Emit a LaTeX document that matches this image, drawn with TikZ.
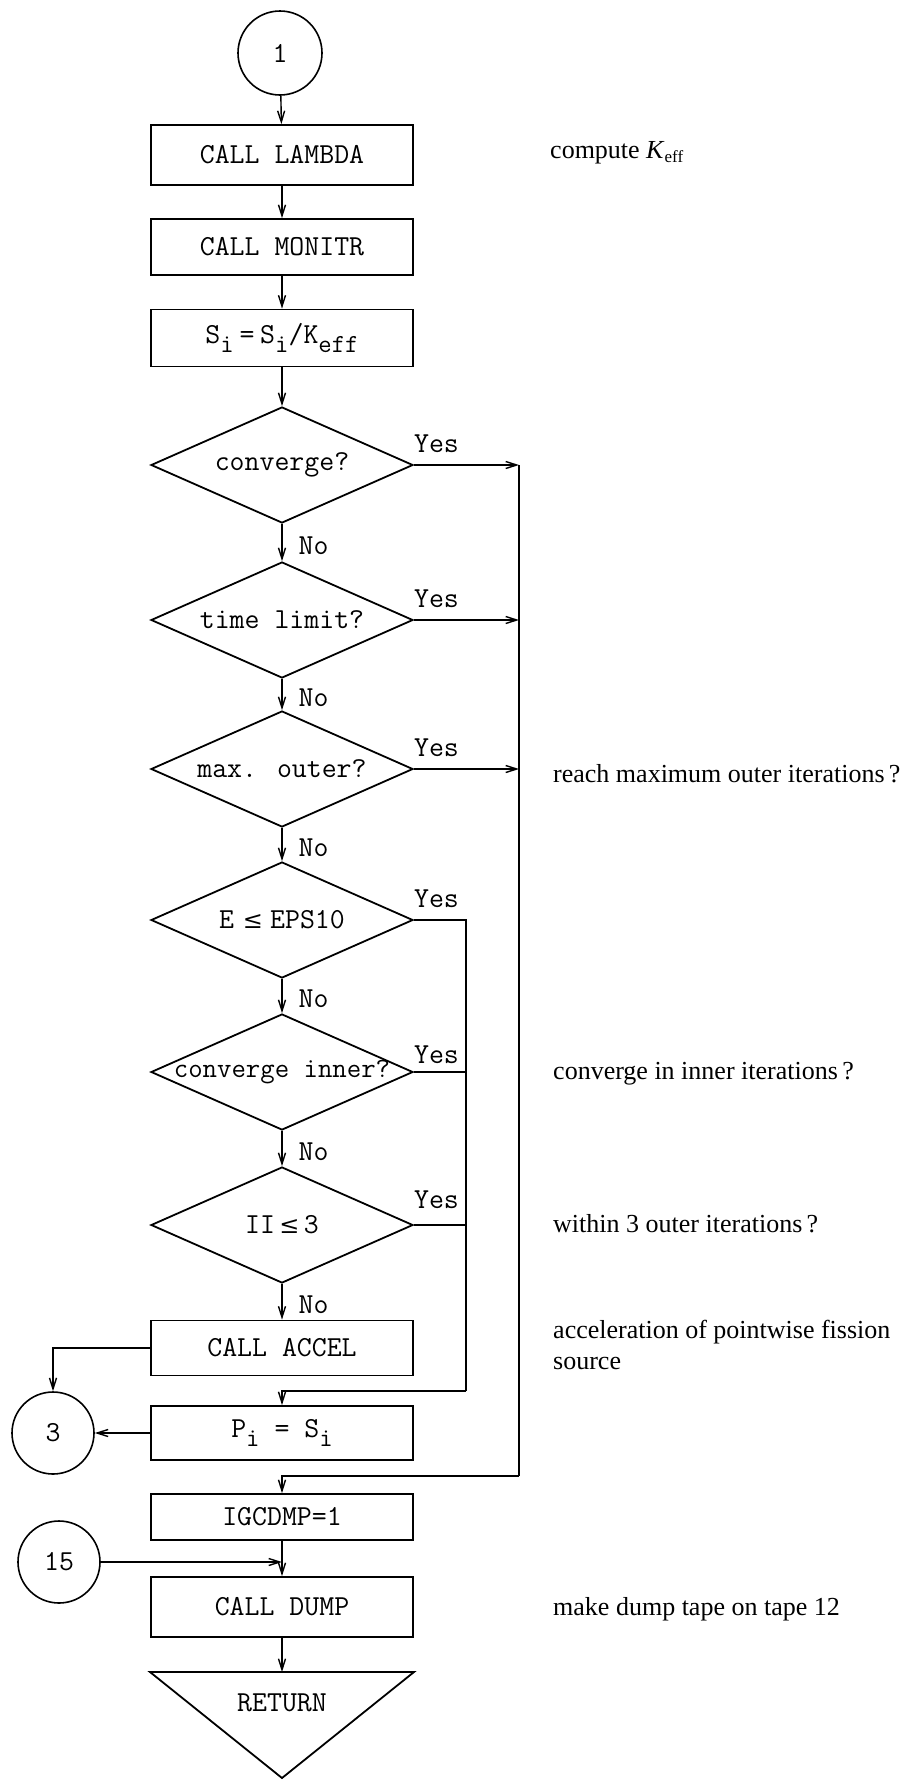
\documentclass[tikz,border=0pt]{standalone}
\usepackage{fontspec}
\newfontfamily\annotfont{Liberation Serif}
\newfontfamily\relfont{DejaVu Serif}
\usetikzlibrary{shapes.geometric,arrows.meta}

% lowered index, typewriter style
\newcommand{\lowidx}[1]{\raisebox{-0.3em}{\fontsize{26}{26}\selectfont #1}}
% less-or-equal sign
\newcommand{\leqsign}{{\relfont\fontsize{24}{24}\selectfont ≤}}

\begin{document}
\begin{tikzpicture}[x=1pt,y=-1pt,
  every node/.style={font=\fontsize{29}{32}\selectfont\ttfamily},
  stepbox/.style={draw, line width=1.8pt, minimum width=262pt, inner sep=0pt},
  decision/.style={draw, diamond, line width=1.8pt, minimum width=262pt,
                   minimum height=116pt, inner sep=0pt},
  connector/.style={draw, circle, line width=1.6pt, minimum size=84pt, inner sep=0pt},
  flow/.style={line width=1.4pt, -{Straight Barb[length=11pt,width=7pt]}},
  link/.style={line width=1.4pt},
  yeslabel/.style={anchor=south west, inner sep=0pt, xshift=0pt, yshift=12pt},
  nolabel/.style={anchor=west, inner sep=0pt, xshift=16pt, yshift=-3pt},
  note/.style={font=\fontsize{26}{31}\selectfont\annotfont, anchor=west,
               align=left, inner sep=0pt}
]
\useasboundingbox (0,0) rectangle (908,1783);

% main column
\node[connector] (c1) at (280,53) {1};
\node[stepbox, minimum height=60pt] (lambda) at (282,155) {CALL LAMBDA};
\node[stepbox, minimum height=56pt] (monitr) at (282,247) {CALL MONITR};
\node[stepbox, minimum height=57pt] (snorm) at (282,338)
  {S\lowidx{i}\hspace{0.2em}=\hspace{0.2em}S\lowidx{i}/K\lowidx{eff}};
\node[decision] (d1) at (282,465) {\makebox[0pt]{converge?}};
\node[decision] (d2) at (282,620) {\makebox[0pt]{time limit?}};
\node[decision] (d3) at (282,769) {\makebox[0pt]{max. outer?}};
\node[decision] (d4) at (282,920)
  {\makebox[0pt]{E\hspace{0.3em}\leqsign\hspace{0.25em}EPS10}};
\node[decision] (d5) at (282,1072)
  {\makebox[0pt]{\fontsize{28}{32}\selectfont converge inner?}};
\node[decision] (d6) at (282,1225)
  {\makebox[0pt]{II\hspace{0.15em}\leqsign\hspace{0.15em}3}};
\node[stepbox, minimum height=55pt] (accel) at (282,1348) {CALL ACCEL};
\node[stepbox, minimum height=54pt] (pbox) at (282,1433)
  {P\lowidx{i} = S\lowidx{i}};
\node[stepbox, minimum height=46pt] (igc) at (282,1517) {IGCDMP=1};
\node[stepbox, minimum height=60pt] (dump) at (282,1607) {CALL DUMP};
\coordinate (rettop) at (282,1672);
\node (ret) at (282,1703) {RETURN};
\draw[line width=1.8pt, line join=miter]
  ([xshift=-132pt]rettop) -- ([xshift=132pt]rettop)
  -- ([yshift=-106pt]rettop) -- cycle;

% side connectors
\node[connector, minimum size=82pt] (c3) at (53,1433) {3};
\node[connector, minimum size=82pt] (c15) at (59,1562) {15};

% vertical flow
\draw[flow] (c1) -- (lambda);
\draw[flow] (lambda) -- (monitr);
\draw[flow] (monitr) -- (snorm);
\draw[flow] (snorm) -- (d1.north);
\draw[flow] (d1.south) -- node[nolabel] {No} (d2.north);
\draw[flow] (d2.south) -- node[nolabel] {No} (d3.north);
\draw[flow] (d3.south) -- node[nolabel] {No} (d4.north);
\draw[flow] (d4.south) -- node[nolabel] {No} (d5.north);
\draw[flow] (d5.south) -- node[nolabel] {No} (d6.north);
\draw[flow] (d6.south) -- node[nolabel] {No} (accel.north);
\draw[flow] (igc.south) -- (dump.north);
\draw[flow] (dump.south) -- (rettop);

% outer exit loop
\coordinate (otop) at (519,465);
\coordinate (obot) at (519,1476);
\draw[flow] (d1.east) -- (d1.east -| otop);
\draw[flow] (d2.east) -- (d2.east -| otop);
\draw[flow] (d3.east) -- (d3.east -| otop);
\draw[link] (otop) -- (obot);
\draw[flow] (obot) -| (igc.north);
\node[yeslabel] at (d1.east) {Yes};
\node[yeslabel] at (d2.east) {Yes};
\node[yeslabel] at (d3.east) {Yes};

% inner bypass of the acceleration
\coordinate (itop) at (466,920);
\coordinate (ibot) at (466,1391);
\draw[link] (d4.east) -- (itop) -- (ibot);
\draw[link] (d5.east) -- (d5.east -| itop);
\draw[link] (d6.east) -- (d6.east -| itop);
\draw[flow] (ibot) -| (pbox.north);
\node[yeslabel] at (d4.east) {Yes};
\node[yeslabel, yshift=-4pt] at (d5.east) {Yes};
\node[yeslabel, yshift=4pt] at (d6.east) {Yes};

% links to the numbered connectors
\draw[flow] (accel.west) -| (c3.north);
\draw[flow] (pbox.west) -- (c3.east);
\draw[flow] (c15.east) -- (c15.east -| igc.south);

% comments beside the chart
\node[note] (n1) at (550,153)
  {compute \textit{K}\raisebox{-0.3ex}{\fontsize{17}{17}\selectfont eff}};
\node[note] (n2) at (553,774) {reach maximum outer iterations\,?};
\node[note] (n3) at (553,1074) {converge in inner iterations\,?};
\node[note] (n4) at (553,1224) {within 3 outer iterations\,?};
\node[note] (n5) at (553,1345) {acceleration of pointwise fission\\source};
\node[note] (n6) at (553,1609) {make dump tape on tape 12};
\end{tikzpicture}
\end{document}
